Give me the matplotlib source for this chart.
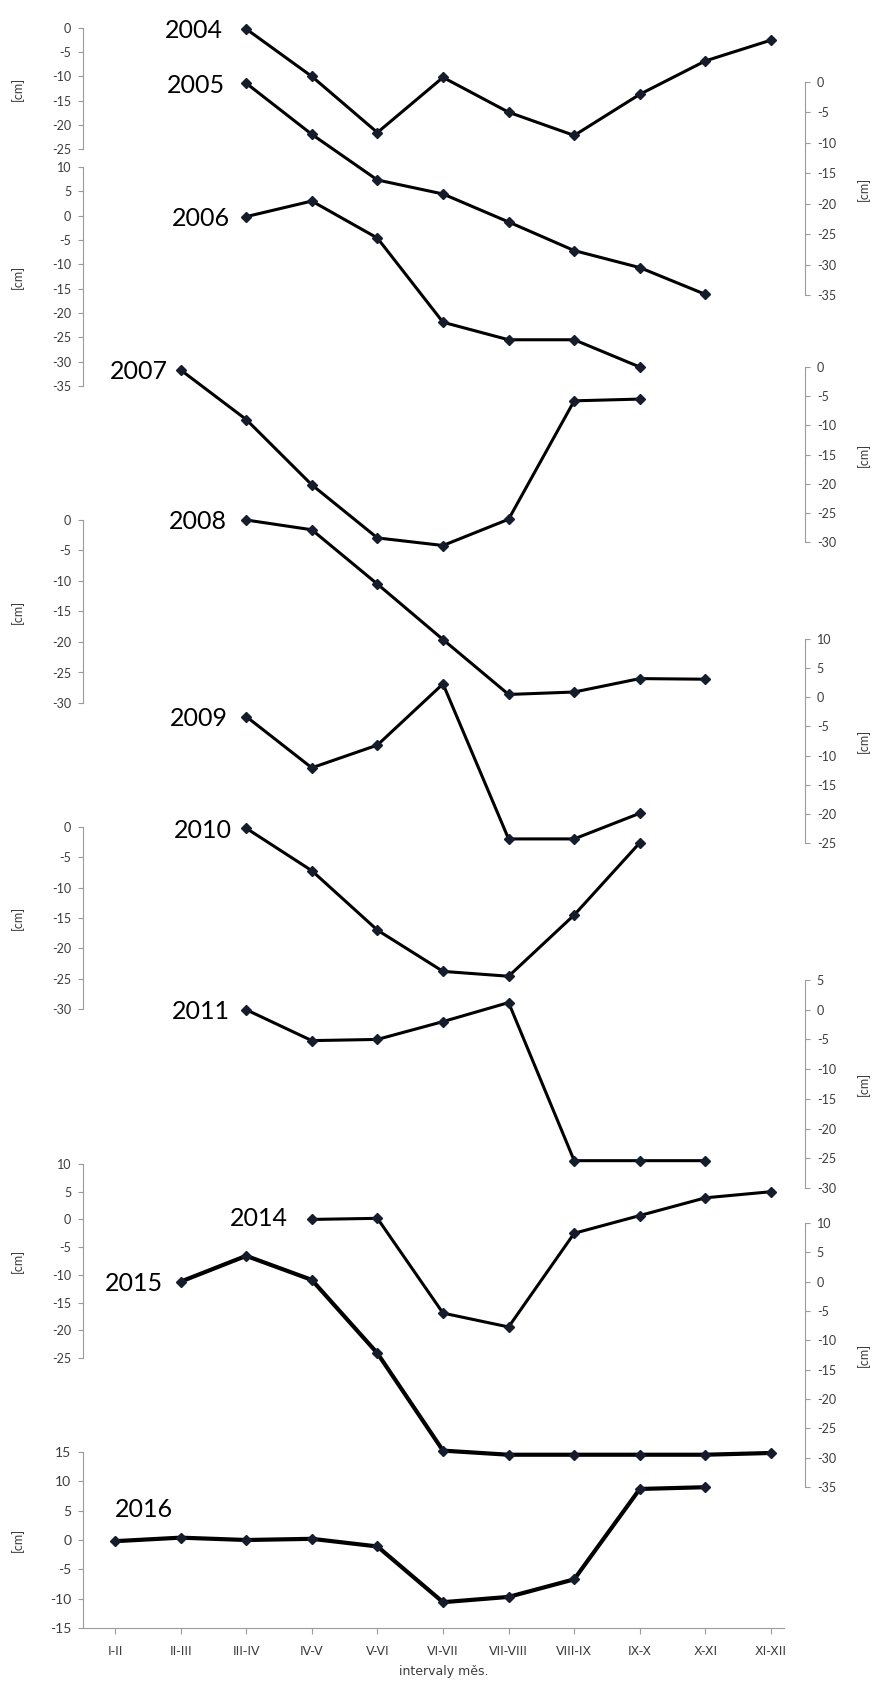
import matplotlib
matplotlib.use("Agg")
import matplotlib.pyplot as plt

plt.rcParams['font.family'] = ['Lato', 'DejaVu Sans']
plt.rcParams['axes.unicode_minus'] = False

# month intervals on the x axis
intervals = ["I-II", "II-III", "III-IV", "IV-V", "V-VI", "VI-VII",
             "VII-VIII", "VIII-IX", "IX-X", "X-XI", "XI-XII"]

# [cm] per year, first value sits at interval index given in starts
years = ["2004", "2005", "2006", "2007", "2008", "2009",
         "2010", "2011", "2014", "2015", "2016"]
starts = [2, 2, 2, 1, 2, 2, 2, 2, 3, 1, 0]

y2004 = [-0.2, -10.0, -21.6, -10.2, -17.4, -22.2, -13.7, -6.8, -2.5]
y2005 = [-0.2, -8.6, -16.1, -18.4, -23.0, -27.7, -30.5, -34.9]
y2006 = [-0.2, 3.0, -4.6, -21.9, -25.5, -25.5, -31.1]
y2007 = [-0.5, -9.0, -20.2, -29.3, -30.6, -26.1, -5.8, -5.5]
y2008 = [0.0, -1.6, -10.5, -19.6, -28.6, -28.2, -26.0, -26.1]
y2009 = [-3.3, -12.1, -8.2, 2.3, -24.3, -24.3, -19.9]
y2010 = [-0.2, -7.2, -17.0, -23.8, -24.6, -14.5, -2.6]
y2011 = [0.0, -5.2, -5.0, -2.0, 1.2, -25.4, -25.4, -25.4]
y2014 = [0.0, 0.2, -16.9, -19.4, -2.5, 0.7, 3.9, 5.0]
y2015 = [0.0, 4.4, 0.3, -12.2, -28.8, -29.5, -29.5, -29.5, -29.5, -29.2]
y2016 = [-0.2, 0.4, 0.0, 0.2, -1.1, -10.6, -9.7, -6.7, 8.7, 9.0]

values = [y2004, y2005, y2006, y2007, y2008, y2009,
          y2010, y2011, y2014, y2015, y2016]

# axis scale of each year: top value, bottom value
scales = [(0, -25), (0, -35), (10, -35), (0, -30), (0, -30), (10, -25),
          (0, -30), (5, -30), (10, -25), (10, -35), (15, -15)]

# ---- layout (pixels of the 876x1697 picture) ----
W, H = 876, 1697
sides = ['left', 'right', 'left', 'right', 'left', 'right',
         'left', 'right', 'left', 'right', 'left']
spans = [(28, 149), (82, 295), (167, 386), (367, 542), (520, 703), (639, 843),
         (827, 1009), (980, 1188), (1164, 1358), (1223, 1487), (1452, 1628)]
label_off = [(-23, -2), (-21, -2), (-16, -2), (-13, -2), (-19, -2), (-18, -2),
             (-14, -2), (-16, -2), (-24, 1), (-18, -2), (0, 32)]
X0, X1 = 83, 805
CAT0, STEP = 115, 65.6
xlim = ((X0 - CAT0) / STEP, (X1 - CAT0) / STEP)

GRAY = '#9b9b9b'
TXT = '#3c3c3c'
NARROW = ['Liberation Sans Narrow', 'DejaVu Sans']

fig = plt.figure(figsize=(W / 100, H / 100), dpi=100)

for i in range(len(years)):
    side = sides[i]
    top_px, bot_px = spans[i]
    top_v, bot_v = scales[i]
    ax = fig.add_axes([X0 / W, 1 - bot_px / H, (X1 - X0) / W, (bot_px - top_px) / H])
    ax.patch.set_alpha(0)
    ax.set_xlim(*xlim)
    ax.set_ylim(bot_v, top_v)
    for s in ax.spines.values():
        s.set_visible(False)
    ax.spines[side].set_visible(True)
    ax.spines[side].set_color(GRAY)
    ax.spines[side].set_linewidth(0.8)
    ax.set_yticks(range(bot_v, top_v + 1, 5))
    if side == 'right':
        ax.yaxis.tick_right()
        ax.yaxis.set_label_position('right')
    last = i == len(years) - 1
    ax.tick_params(axis='y', direction='out', length=3.5, width=0.8, color=GRAY,
                   labelsize=10 if last else 9, labelcolor=TXT, pad=5)
    ax.set_ylabel('[cm]', fontsize=9, color=TXT, rotation=90)
    ax.yaxis.set_label_coords(-0.082 if side == 'left' else 1.072, 0.5)

    if last:
        ax.spines['bottom'].set_visible(True)
        ax.spines['bottom'].set_color(GRAY)
        ax.spines['bottom'].set_linewidth(0.8)
        ax.spines['bottom'].set_bounds(xlim[0], (784 - CAT0) / STEP)
        ax.set_xticks(range(len(intervals)))
        ax.set_xticklabels(intervals, family=NARROW)
        ax.tick_params(axis='x', direction='out', length=4, width=0.8, color=GRAY,
                       labelsize=9, labelcolor=TXT, pad=8)
        ax.set_xlabel('intervaly měs.', fontsize=9, color=TXT, family=NARROW)
        ax.xaxis.set_label_coords(0.50, -0.21)
    else:
        ax.set_xticks([])

    xs = list(range(starts[i], starts[i] + len(values[i])))
    lw = 3.0 if i >= 9 else 2.2
    ax.plot(xs, values[i], color='black', lw=lw, marker='D', markersize=5,
            markerfacecolor='#151c2c', markeredgecolor='#151c2c', clip_on=False, zorder=3)

    dx, dy = label_off[i]
    ax.annotate(years[i], (xs[0], values[i][0]), xytext=(dx, dy),
                textcoords='offset pixels', ha='right' if dx < 0 else 'left',
                va='center', fontsize=18, color='black')

fig.savefig('out.png', dpi=100)
